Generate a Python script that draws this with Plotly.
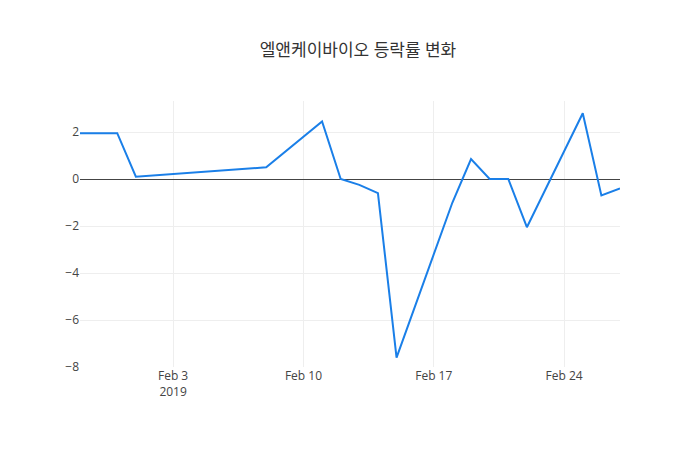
import plotly.graph_objects as go

dates = ["2019-01-29","2019-01-31","2019-02-01","2019-02-08","2019-02-11","2019-02-12","2019-02-13",
         "2019-02-14","2019-02-15","2019-02-18","2019-02-19","2019-02-20","2019-02-21","2019-02-22",
         "2019-02-25","2019-02-26","2019-02-27"]
changes = [1.95,1.95,0.1,0.5,2.45,0.0,-0.25,-0.6,-7.6,-1.0,0.85,0.0,0.0,-2.05,2.8,-0.7,-0.4]

fig = go.Figure(go.Scatter(x=dates, y=changes, mode="lines", line=dict(color="#1a7fe8", width=2)))
fig.update_layout(
    template="plotly_white", width=700, height=450,
    title=dict(text="엘앤케이바이오 등락률 변화", x=0.5, y=0.92, font=dict(size=17, color="#333")),
    margin=dict(l=72, r=88, t=93, b=91),
    font=dict(family="Open Sans, Noto Sans CJK KR", color="#444"),
    showlegend=False,
)
fig.update_xaxes(range=["2019-01-29","2019-02-27"], showgrid=True, gridcolor="#eee")
fig.update_yaxes(range=[-8, 3.32], dtick=2, zeroline=True, zerolinecolor="#444", zerolinewidth=1, gridcolor="#eee")
fig.write_html("out.html")
